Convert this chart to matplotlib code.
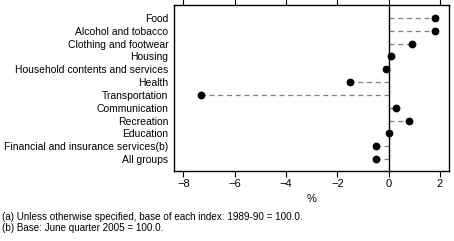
import matplotlib
matplotlib.use('Agg')
import matplotlib.pyplot as plt

categories = ['Food',
              'Alcohol and tobacco',
              'Clothing and footwear',
              'Housing',
              'Household contents and services',
              'Health',
              'Transportation',
              'Communication',
              'Recreation',
              'Education',
              'Financial and insurance services(b)',
              'All groups']
values = [1.8, 1.8, 0.9, 0.1, -0.1, -1.5, -7.3, 0.3, 0.8, 0.0, -0.5, -0.5]
xticks = [-8, -6, -4, -2, 0, 2]
footnotes = ['(a) Unless otherwise specified, base of each index: 1989-90 = 100.0.',
             '(b) Base: June quarter 2005 = 100.0.']

plt.rcParams['font.family'] = ['Liberation Sans', 'DejaVu Sans']

fig = plt.figure(figsize=(4.54, 2.41), dpi=100)
ax = fig.add_axes([0.383, 0.29, 0.606, 0.691])

ypos = list(range(len(categories)))
for y, v in zip(ypos, values):
    ax.plot([0, v], [y, y], color='#808080', lw=0.9, ls=(0, (4, 3)), zorder=1)
ax.axvline(0, color='black', lw=1.0, zorder=2)
ax.plot(values, ypos, 'o', color='black', ms=4.6, zorder=3)

ax.set_xlim(-8.37, 2.35)
ax.set_ylim(len(categories) - 1 + 0.93, -1.03)
ax.set_xticks(xticks)
ax.set_xticklabels(['\u2212' + str(-t) if t < 0 else str(t) for t in xticks], fontsize=8)
ax.set_yticks(ypos)
ax.set_yticklabels(categories, fontsize=7.5)
ax.tick_params(axis='y', length=0, pad=4)
ax.tick_params(axis='x', direction='out', length=4, width=0.8, top=True, pad=2)
for s in ax.spines.values():
    s.set_linewidth(1.0)
ax.set_xlabel('%', fontsize=8, labelpad=3)

fig.text(0.005, (241 - 217) / 241, footnotes[0], fontsize=7.1, va='center')
fig.text(0.005, (241 - 228) / 241, footnotes[1], fontsize=7.1, va='center')

fig.savefig('out.png', dpi=100)
